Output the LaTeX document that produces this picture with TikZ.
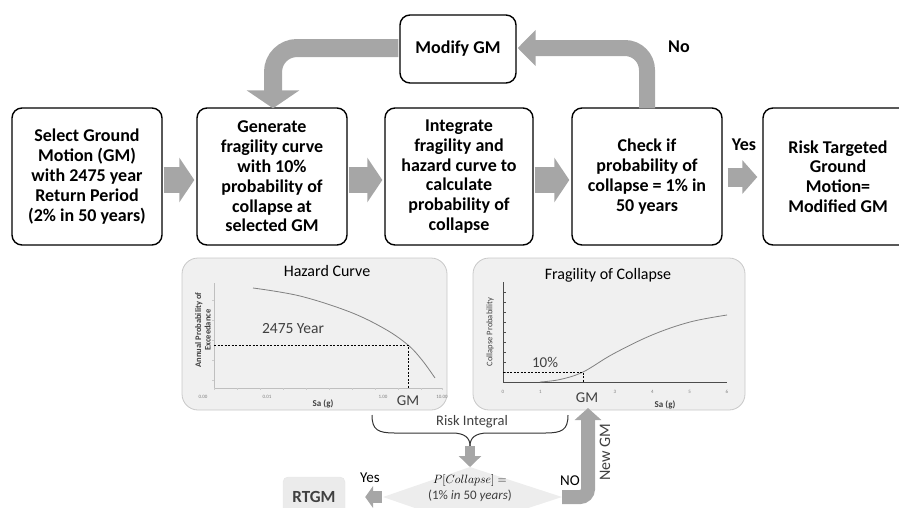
\documentclass[tikz,border=0pt]{standalone}
\usepackage{fontspec}
\setmainfont{Carlito}
\usetikzlibrary{arrows.meta}
\definecolor{arr}{HTML}{A6A6A6}
\definecolor{panel}{HTML}{F0F0F0}
\definecolor{pborder}{HTML}{C8C8C8}
\definecolor{curve}{HTML}{808080}
\definecolor{txt}{HTML}{404040}
\tikzset{
  procbox/.style={draw=black, line width=1.4pt, rounded corners=10pt, fill=white, align=center,
    font=\fontsize{18}{19.8}\selectfont\bfseries, inner sep=0pt},
  blockarr/.style={draw=none, fill=arr},
  fatline/.style={arr, line width=#1},
  panelbox/.style={draw=pborder, fill=panel, rounded corners=16pt, line width=0.8pt, minimum width=#1, minimum height=152pt, inner sep=0pt},
  ptitle/.style={font=\fontsize{16}{18}\selectfont, text=black},
  tick/.style={font=\fontsize{5}{6}\selectfont, text=gray},
  axlab/.style={font=\fontsize{9}{10}\selectfont\bfseries, text=txt},
  gmlab/.style={font=\fontsize{15}{17}\selectfont, text=txt},
}
\begin{document}
\begin{tikzpicture}[x=1pt, y=-1pt]
\useasboundingbox (0,0) rectangle (899,507);
% top boxes
\node[procbox, minimum width=150pt, minimum height=137pt] (b1) at (87,176.5) {Select Ground\\Motion (GM)\\with 2475 year\\Return Period\\(2\% in 50 years)};
\node[procbox, minimum width=150pt, minimum height=137pt] (b2) at (272,176.5) {Generate\\fragility curve\\with 10\%\\probability of\\collapse at\\selected GM};
\node[procbox, minimum width=148pt, minimum height=137pt] (b3) at (459,176.5) {Integrate\\fragility and\\hazard curve to\\calculate\\probability of\\collapse};
\node[procbox, minimum width=150pt, minimum height=137pt] (b4) at (647,176.5) {Check if\\probability of\\collapse = 1\% in\\50 years};
\node[procbox, minimum width=150pt, minimum height=137pt] (b5) at (838,176.5) {Risk Targeted\\Ground\\Motion=\\Modified GM};
\node[procbox, minimum width=116pt, minimum height=68pt] (mod) at (458,49) {Modify GM};
\node[font=\fontsize{18}{20}\selectfont\bfseries] (no) at (679,47) {No};
\node[font=\fontsize{18}{20}\selectfont\bfseries] (yes) at (744,145) {Yes};
% horizontal block arrows
\foreach \a/\b in {b1/b2, b2/b3, b3/b4}{
  \draw[fatline=26pt, -{Triangle[width=44pt,length=15pt]}] ([xshift=1pt]\a.east |- 0,180) -- ([xshift=-2pt]\b.west |- 0,180);
}
\draw[fatline=19pt, -{Triangle[width=33pt,length=15pt]}] ([xshift=5pt]b4.east |- 0,177) -- ([xshift=-5pt]b5.west |- 0,177);
% loops
\coordinate (c4) at ([yshift=-1pt]b4.north);
\draw[fatline=16pt, rounded corners=22pt, -{Triangle[width=35pt,length=18pt]}] (c4) -- (647,48) -- ([xshift=1pt]mod.east |- 0,48);
\draw[fatline=18pt, rounded corners=24pt, -{Triangle[width=52pt,length=18pt]}] ([xshift=-1pt]mod.west |- 0,48) -- (273,48) -- ([yshift=-1pt]b2.north -| 273,0);
% panels
\node[panelbox=265pt] (hp) at (314.5,334) {};
\node[panelbox=272pt] (fp) at (609,334) {};
% hazard curve
\node[ptitle] (ht) at (327,271) {Hazard Curve};
\draw[gray!50, line width=0.5pt] (214,283) -- (214,388) -- (442,388);
\foreach \x in {214,237,260,283,306,329,352,375,398,421,442} \draw[gray!40, line width=0.3pt] (\x,388) -- (\x,390);
\foreach \y in {300,320,340,360,380} \draw[gray!40, line width=0.3pt] (212,\y) -- (214,\y);
\draw[curve, line width=0.8pt] plot[smooth, tension=0.6] coordinates {(253,288) (300,296) (350,312) (385,329) (408,345) (422,360) (435,378)};
\draw[black, dashed, line width=0.5pt, dash pattern=on 2pt off 1.5pt] (214,345) -- (408,345) -- (408,388);
\node[font=\fontsize{15.5}{17}\selectfont, text=txt] (y2475) at (293,329) {2475 Year};
\node[rotate=90, align=center, font=\fontsize{8.5}{9.5}\selectfont\bfseries, text=txt] (hyl) at (203,330) {Annual Probability of\\Exceedance};
\node[tick] (h1) at (203,397) {0.00};
\node[tick] (h2) at (267,397) {0.01};
\node[tick] (h3) at (383,397) {1.00};
\node[tick] (h4) at (442,397) {10.00};
\node[axlab] (hxl) at (323,404) {Sa (g)};
\node[gmlab] (hgm) at (408,401) {GM};
% fragility curve
\node[ptitle] (ft) at (608,275) {Fragility of Collapse};
\draw[black!70, line width=0.7pt] (503,282) -- (503,382) -- (727,382);
\foreach \y in {292,302,312,322,332,342,352,362,372} \draw[black!70, line width=0.5pt] (503,\y) -- (506,\y);
\foreach \i in {0,1,3,4,5,6} {
  \node[tick] (ft\i) at ({503+37.33*\i},392) {\i};
}
\draw[curve, line width=0.8pt] plot[smooth, tension=0.6] coordinates {(540,382) (560,379.5) (583,372) (613,354) (652,335) (690,322) (727,315)};
\draw[black, dashed, line width=0.5pt, dash pattern=on 2pt off 1.5pt] (503,372) -- (583,372) -- (583,382);
\node[font=\fontsize{15}{17}\selectfont, text=txt] (p10) at (545,362) {10\%};
\node[rotate=90, font=\fontsize{8.5}{9.5}\selectfont, text=txt] (fyl) at (490,332) {Collapse Probability};
\node[axlab] (fxl) at (665,405) {Sa (g)};
\node[gmlab] (fgm) at (587,398) {GM};
% brace
\draw[black!80, line width=1pt] (372,415) .. controls (372,430) and (378,433) .. (395,433) -- (452,433) .. controls (465,433) and (470,438) .. (470,446);
\draw[black!80, line width=1pt] (568,415) .. controls (568,430) and (562,433) .. (545,433) -- (488,433) .. controls (475,433) and (470,438) .. (470,446);
\node[font=\fontsize{14.5}{16}\selectfont, text=txt] (ri) at (472,422) {Risk Integral};
\coordinate (bt) at (470,446);
% diamond
\fill[black!7] (470,467) coordinate (dtop) -- (562,497) coordinate (dright) -- (470,527) -- (383,497) coordinate (dleft) -- cycle;
\coordinate (dcen) at (470,497);
\draw[fatline=10pt, -{Triangle[width=22pt,length=11pt]}] (bt) -- (dtop);
\node[font=\fontsize{13}{15}\selectfont] (pc) at (470,480) {$P[Collapse]=$};
\node[font=\fontsize{13}{15}\selectfont, text=txt] (pc2) at (470,496) {(1\% \textit{in} 50 \textit{years})};
% RTGM
\node[draw=black!10, fill=black!8, rounded corners=5pt, minimum width=62pt, minimum height=40pt, font=\fontsize{17}{19}\selectfont\bfseries, text=txt] (rtgm) at (314,497) {RTGM};
\draw[fatline=12pt, -{Triangle[width=22pt,length=8pt]}] ([xshift=-1pt]dleft) -- ([xshift=20pt]rtgm.east |- dleft);
\node[font=\fontsize{15}{17}\selectfont] (yes2) at (370,478) {Yes};
% NO path
\draw[fatline=14pt, rounded corners=8pt, -{Triangle[width=26pt,length=12pt]}] (dright) -- (588,497) -- (588,408);
\node[font=\fontsize{15}{17}\selectfont] (no2) at (570,481) {NO};
\node[rotate=90, font=\fontsize{16}{18}\selectfont, text=txt] (ngm) at (605,452) {New GM};
\end{tikzpicture}
\end{document}
